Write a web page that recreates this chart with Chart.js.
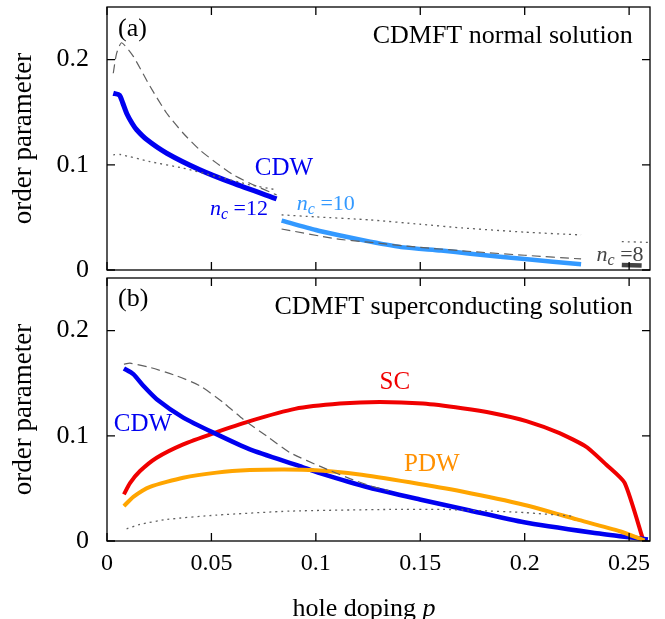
<!DOCTYPE html>
<html>
<head>
<meta charset="utf-8">
<script src="https://cdn.jsdelivr.net/npm/chart.js@4.4.1/dist/chart.umd.min.js"></script>
<style>
  body { margin: 0; background: #fff; }
  #wrap { position: relative; width: 665px; height: 619px; }
  canvas { position: absolute; left: 0; }
  #chartA { top: 0; }
  #chartB { top: 271px; }
</style>
</head>
<body>
<div id="wrap">
  <canvas id="chartA" width="665" height="278"></canvas>
  <canvas id="chartB" width="665" height="348"></canvas>
</div>
<script>
// axis ticks
const xTicks = [0, 0.05, 0.1, 0.15, 0.2, 0.25];
const yTicks = [0, 0.1, 0.2];

// panel (a): CDMFT normal solution
const cdw12P = [0.003, 0.006, 0.0075, 0.0095, 0.012, 0.0142, 0.019, 0.0286, 0.0445, 0.0604, 0.0812];
const cdw12V = [0.168, 0.1662, 0.159, 0.1485, 0.1395, 0.1333, 0.124, 0.111, 0.0952, 0.0825, 0.0676];
const dash12P = [0.003, 0.0046, 0.007, 0.0126, 0.0206, 0.0286, 0.0365, 0.0445, 0.0525, 0.0604, 0.0684, 0.0812];
const dash12V = [0.187, 0.206, 0.216, 0.203, 0.1746, 0.149, 0.130, 0.114, 0.1016, 0.0905, 0.0825, 0.0714];
const dot12P = [0.003, 0.0062, 0.0206, 0.0365, 0.0525, 0.0684, 0.0812];
const dot12V = [0.1095, 0.1098, 0.103, 0.0968, 0.0889, 0.081, 0.0762];

const cdw10P = [0.0836, 0.1, 0.11, 0.126, 0.142, 0.16, 0.174, 0.2, 0.227];
const cdw10V = [0.047, 0.038, 0.0335, 0.027, 0.0215, 0.0185, 0.0155, 0.0104, 0.0054];
const dash10P = [0.0836, 0.11, 0.125, 0.15, 0.177, 0.2, 0.227];
const dash10V = [0.039, 0.0295, 0.0265, 0.0215, 0.0172, 0.014, 0.0105];
const dot10P = [0.0836, 0.1, 0.126, 0.15, 0.17, 0.2, 0.227];
const dot10V = [0.0524, 0.0505, 0.0476, 0.0435, 0.040, 0.036, 0.0333];

const cdw8P = [0.2465, 0.256];
const cdw8V = [0.0048, 0.0042];
const dot8P = [0.2465, 0.26];
const dot8V = [0.027, 0.0262];

// panel (b): CDMFT superconducting solution
const cdwBP = [0.0081, 0.0126, 0.0174, 0.0238, 0.0365, 0.0509, 0.0684, 0.0923, 0.1019, 0.1258, 0.1498, 0.1737, 0.1997, 0.2327, 0.2455, 0.259];
const cdwBV = [0.164, 0.1586, 0.1475, 0.1348, 0.1173, 0.103, 0.0871, 0.0712, 0.0645, 0.0506, 0.0395, 0.029, 0.0178, 0.0078, 0.0046, 0.0015];
const scP = [0.0081, 0.011, 0.0158, 0.0238, 0.0365, 0.0509, 0.0684, 0.09, 0.1115, 0.1306, 0.1513, 0.17, 0.1848, 0.2008, 0.2167, 0.2295, 0.2391, 0.2478, 0.2568];
const scV = [0.0443, 0.055, 0.0665, 0.0792, 0.0919, 0.1024, 0.114, 0.1256, 0.1306, 0.1322, 0.1306, 0.1262, 0.1215, 0.114, 0.1025, 0.0895, 0.0725, 0.0554, 0.0005];
const pdwP = [0.0081, 0.0126, 0.0206, 0.0365, 0.0525, 0.0684, 0.085, 0.1, 0.12, 0.145, 0.17, 0.2, 0.225, 0.2455, 0.2574];
const pdwV = [0.0332, 0.042, 0.0515, 0.0602, 0.065, 0.0674, 0.068, 0.0672, 0.0635, 0.0558, 0.047, 0.0342, 0.0205, 0.0093, 0.0005];
const dashBP = [0.0081, 0.011, 0.0206, 0.0333, 0.0445, 0.0557, 0.0652, 0.0764, 0.0876, 0.1035, 0.118, 0.129, 0.135];
const dashBV = [0.168, 0.169, 0.165, 0.157, 0.1475, 0.1316, 0.1157, 0.0998, 0.084, 0.0697, 0.058, 0.0507, 0.048];
const dotBP = [0.0094, 0.0158, 0.0286, 0.0525, 0.0876, 0.1354, 0.161, 0.1769, 0.2, 0.223];
const dotBV = [0.0116, 0.0157, 0.0205, 0.0246, 0.0284, 0.030, 0.030, 0.029, 0.027, 0.0236];

const FONT = "'Liberation Serif', 'Times New Roman', serif";
const BLUE = "#0000f0";
const LIGHTBLUE = "#3399ff";
const RED = "#f00000";
const ORANGE = "#ffa500";
const GRAY = "#606060";

function points(ps, vs) {
  return ps.map((p, i) => ({ x: p, y: vs[i] }));
}

function line(ps, vs, color, width, dash) {
  return {
    data: points(ps, vs),
    borderColor: color,
    borderWidth: width,
    borderDash: dash || [],
    showLine: true,
    pointRadius: 0,
    tension: 0.2,
    fill: false,
  };
}

// draw a string made of parts (italic / subscript)
function richText(ctx, parts, x, y, size, color, align) {
  const fonts = parts.map((p) => (p.it ? "italic " : "") + Math.round(p.sub ? size * 0.72 : size) + "px " + FONT);
  const widths = [];
  let total = 0;
  parts.forEach((p, i) => {
    ctx.font = fonts[i];
    const w = ctx.measureText(p.t).width;
    widths.push(w);
    total += w;
  });
  let cx = align === "right" ? x - total : align === "center" ? x - total / 2 : x;
  ctx.fillStyle = color;
  ctx.textBaseline = "middle";
  ctx.textAlign = "left";
  parts.forEach((p, i) => {
    ctx.font = fonts[i];
    ctx.fillText(p.t, cx, p.sub ? y + size * 0.28 : y);
    cx += widths[i];
  });
}

const notesA = [
  { parts: [{ t: "(a)" }], p: 0.0053, v: 0.229, size: 26, color: "#000", align: "left" },
  { parts: [{ t: "CDMFT normal solution" }], p: 0.2517, v: 0.222, size: 26, color: "#000", align: "right" },
  { parts: [{ t: "CDW" }], p: 0.0847, v: 0.097, size: 25, color: BLUE, align: "center" },
  { parts: [{ t: "n", it: true }, { t: "c", it: true, sub: true }, { t: " =12" }], p: 0.0493, v: 0.058, size: 22, color: BLUE, align: "left" },
  { parts: [{ t: "n", it: true }, { t: "c", it: true, sub: true }, { t: " =10" }], p: 0.0909, v: 0.063, size: 22, color: LIGHTBLUE, align: "left" },
  { parts: [{ t: "n", it: true }, { t: "c", it: true, sub: true }, { t: " =8" }], p: 0.2344, v: 0.0143, size: 22, color: "#444", align: "left" },
];

const notesB = [
  { parts: [{ t: "(b)" }], p: 0.0053, v: 0.23, size: 26, color: "#000", align: "left" },
  { parts: [{ t: "CDMFT superconducting solution" }], p: 0.2517, v: 0.2224, size: 26, color: "#000", align: "right" },
  { parts: [{ t: "SC" }], p: 0.1378, v: 0.151, size: 25, color: RED, align: "center" },
  { parts: [{ t: "PDW" }], p: 0.1555, v: 0.0729, size: 25, color: "#ff9000", align: "center" },
  { parts: [{ t: "CDW" }], p: 0.0172, v: 0.111, size: 25, color: BLUE, align: "center" },
];

// frame with inward ticks, annotations, x title
const framePlugin = {
  id: "frame",
  afterDraw(chart, args, opts) {
    const { ctx, chartArea: a, scales } = chart;
    ctx.save();
    ctx.strokeStyle = "#000";
    ctx.lineWidth = 1.3;
    ctx.strokeRect(a.left, a.top, a.right - a.left, a.bottom - a.top);
    const len = 8;
    ctx.beginPath();
    xTicks.forEach((v) => {
      const px = scales.x.getPixelForValue(v);
      ctx.moveTo(px, a.bottom); ctx.lineTo(px, a.bottom - len);
      ctx.moveTo(px, a.top); ctx.lineTo(px, a.top + len);
    });
    yTicks.forEach((v) => {
      const py = scales.y.getPixelForValue(v);
      ctx.moveTo(a.left, py); ctx.lineTo(a.left + len, py);
      ctx.moveTo(a.right, py); ctx.lineTo(a.right - len, py);
    });
    ctx.stroke();
    (opts.notes || []).forEach((n) => {
      richText(ctx, n.parts, scales.x.getPixelForValue(n.p), scales.y.getPixelForValue(n.v), n.size, n.color, n.align);
    });
    if (opts.xTitle) {
      richText(ctx, [{ t: "hole doping " }, { t: "p", it: true }], 364, a.bottom + 68, 26, "#000", "center");
    }
    ctx.restore();
  },
};

// keep the library from adding label overflow padding
function noPadding(s) {
  s.paddingTop = 0;
  s.paddingBottom = 0;
  s.paddingLeft = 0;
  s.paddingRight = 0;
}

function makeChart(id, datasets, notes, bottomPanel) {
  return new Chart(document.getElementById(id), {
    type: "scatter",
    data: { datasets: datasets },
    options: {
      responsive: false,
      animation: false,
      events: [],
      layout: { padding: { top: 7, right: 15, bottom: bottomPanel ? 0 : 8, left: 0 } },
      plugins: {
        legend: { display: false },
        tooltip: { enabled: false },
        frame: { notes: notes, xTitle: bottomPanel },
      },
      scales: {
        x: {
          type: "linear",
          min: 0,
          max: 0.26,
          display: bottomPanel,
          afterBuildTicks: (s) => { s.ticks = xTicks.map((v) => ({ value: v })); },
          afterFit: (s) => { s.height = bottomPanel ? 78 : 0; noPadding(s); },
          ticks: {
            font: { family: FONT, size: 24 },
            color: "#000",
            padding: 8,
            maxRotation: 0,
            autoSkip: false,
            callback: (v) => String(+v.toFixed(2)),
          },
          grid: { display: false, drawTicks: false },
          border: { display: false },
        },
        y: {
          min: 0,
          max: 0.25,
          afterBuildTicks: (s) => { s.ticks = yTicks.map((v) => ({ value: v })); },
          afterFit: (s) => { s.width = 107; noPadding(s); },
          ticks: {
            font: { family: FONT, size: 26 },
            color: "#000",
            padding: 18,
            callback: (v) => String(+v.toFixed(2)),
          },
          grid: { display: false, drawTicks: false },
          border: { display: false },
          title: {
            display: true,
            text: "order parameter",
            color: "#000",
            font: { family: FONT, size: 27 },
            padding: { top: 8, bottom: 0 },
          },
        },
      },
    },
    plugins: [framePlugin],
  });
}

makeChart("chartA", [
  line(dash12P, dash12V, GRAY, 1.2, [9, 5]),
  line(dot12P, dot12V, GRAY, 1.3, [2, 4]),
  line(dash10P, dash10V, GRAY, 1.2, [9, 5]),
  line(dot10P, dot10V, GRAY, 1.3, [2, 4]),
  line(dot8P, dot8V, GRAY, 1.3, [2, 4]),
  line(cdw12P, cdw12V, BLUE, 5),
  line(cdw10P, cdw10V, LIGHTBLUE, 4.5),
  line(cdw8P, cdw8V, "#444", 4.5),
], notesA, false);

makeChart("chartB", [
  line(dashBP, dashBV, GRAY, 1.2, [9, 5]),
  line(dotBP, dotBV, GRAY, 1.3, [2, 4]),
  line(pdwP, pdwV, ORANGE, 4),
  line(cdwBP, cdwBV, BLUE, 4.5),
  line(scP, scV, RED, 4),
], notesB, true);
</script>
</body>
</html>
